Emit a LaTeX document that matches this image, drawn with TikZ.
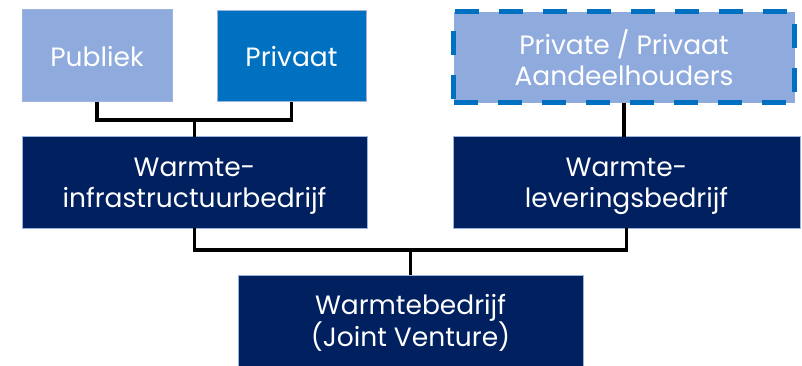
\documentclass[tikz,border=0pt]{standalone}
\usepackage{fontspec}
\setmainfont{Poppins}
\usepackage{tikz}
\usetikzlibrary{calc}
\definecolor{lichtblauw}{HTML}{8FAADC}
\definecolor{middenblauw}{HTML}{0070C0}
\definecolor{donkerblauw}{HTML}{002060}
\definecolor{rand}{HTML}{9DB4DE}
\tikzset{
  box/.style={rectangle, inner sep=0pt, outer sep=0pt, text=white, align=center,
    font=\fontsize{26.5}{31}\selectfont, text depth=0pt, draw=rand, line width=1pt},
  pub/.style={box, fill=lichtblauw},
  priv/.style={box, fill=middenblauw},
  aand/.style={box, fill=lichtblauw, draw=middenblauw, line width=5pt,
    dash pattern=on 24pt off 20pt},
  dark/.style={box, fill=donkerblauw},
  link/.style={draw=black, line width=3.5pt, line join=miter},
}
\begin{document}
\begin{tikzpicture}[x=1pt,y=-1pt]
  \useasboundingbox (0,0) rectangle (802,366);
  % bovenste rij
  \node[pub, minimum width=150pt, minimum height=92pt] (pub) at (97,56) {Publiek};
  \node[priv, minimum width=149pt, minimum height=91pt] (priv) at (291.5,56.5) {Privaat};
  \node[aand, minimum width=341pt, minimum height=91pt] (aand) at (624,57.5)
    {Private / Privaat\\Aandeelhouders};
  % middelste rij
  \node[dark, minimum width=345pt, minimum height=91pt] (infra) at (194.5,182.5)
    {Warmte-\\infrastructuurbedrijf};
  \node[dark, minimum width=347pt, minimum height=91pt] (lev) at (626.5,182.5)
    {Warmte-\\leveringsbedrijf};
  % onderste rij
  \node[dark, minimum width=345pt, minimum height=91pt] (jv) at (410.5,320.5)
    {Warmtebedrijf\\(Joint Venture)};
  % verbindingen
  \coordinate (j1) at (infra.north |- 0,120);
  \coordinate (j2) at (jv.north |- 0,250);
  \draw[link] (pub.south) |- (j1) -| (priv.south);
  \draw[link] (j1) -- (infra.north);
  \draw[link] (infra.south) |- (j2) -| (lev.south);
  \draw[link] (j2) -- (jv.north);
  \draw[link] (aand.south) -- (aand.south |- lev.north);
\end{tikzpicture}
\end{document}
